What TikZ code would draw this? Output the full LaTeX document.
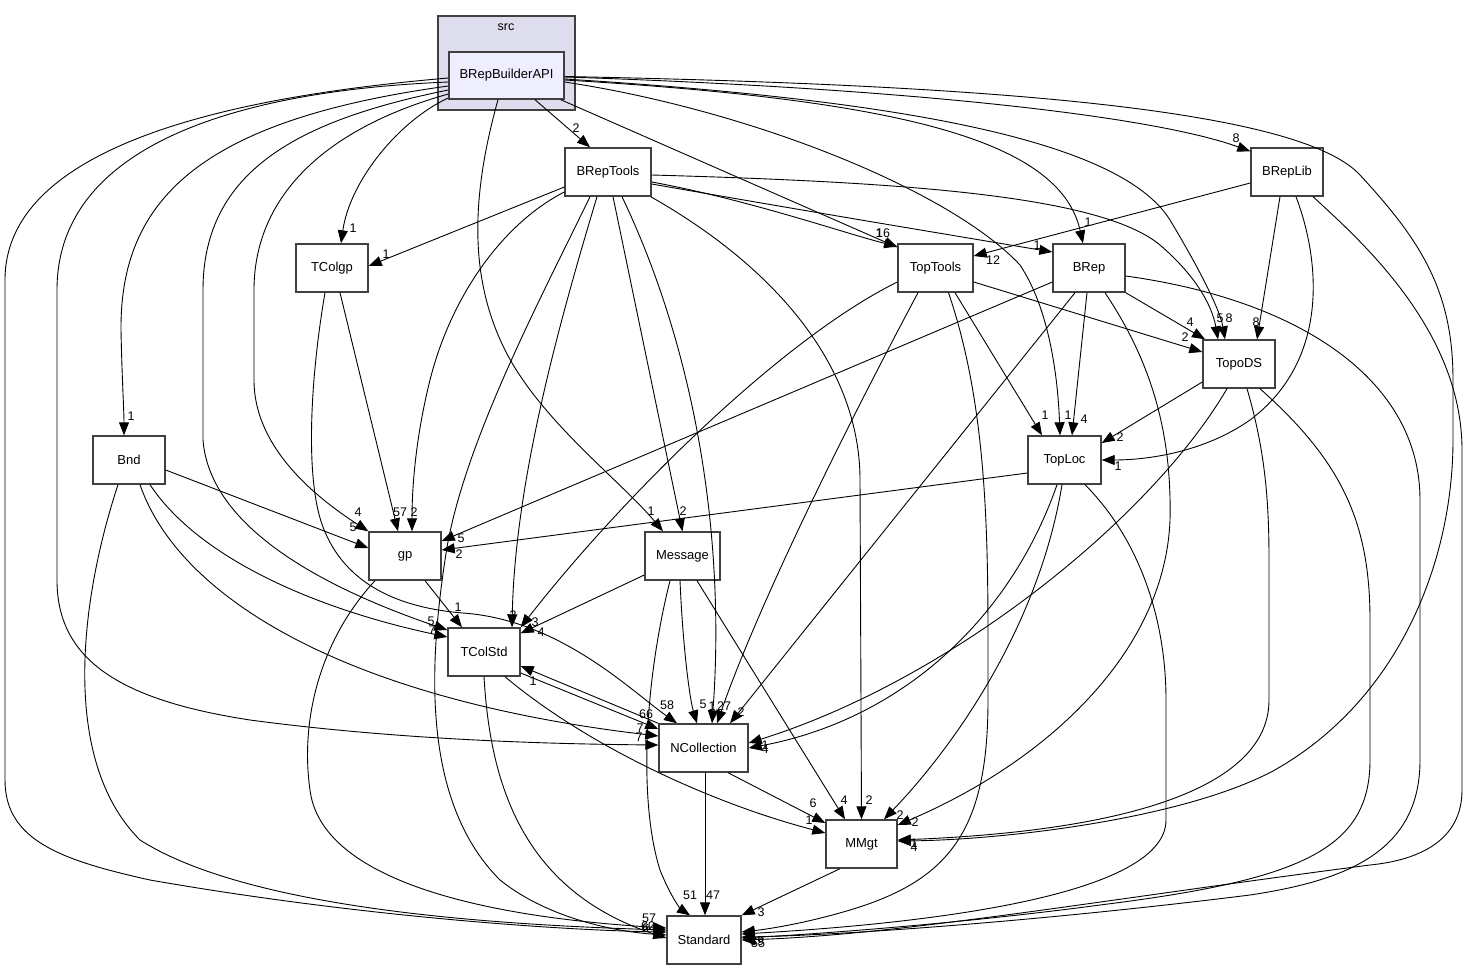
\documentclass[tikz,border=0pt]{standalone}
\usepackage{fontspec}
\setmainfont{Liberation Sans}
\usetikzlibrary{arrows.meta}
\definecolor{clusterfill}{HTML}{DDDDEE}
\definecolor{mainfill}{HTML}{EEEEFF}
\definecolor{boxline}{HTML}{404040}
\begin{document}
\begin{tikzpicture}[x=1pt,y=-1pt,
  box/.style={draw=boxline,line width=1.4pt,fill=white,minimum height=48pt,inner sep=0pt,font=\fontsize{13}{15}\selectfont},
  e/.style={-{Triangle[length=13pt,width=10pt]},line width=0.9pt,black},
  lbl/.style={inner sep=0pt,font=\fontsize{12.5}{13}\selectfont}]
\useasboundingbox (0,0) rectangle (1475,969);
% cluster
\node[draw=boxline,line width=1.4pt,fill=clusterfill,minimum width=137pt,minimum height=94pt,inner sep=0pt] (src) at (506.5,63) {};
\node[font=\fontsize{12.5}{13}\selectfont,inner sep=0pt] (srclbl) at (506,27) {src};
% nodes
\node[box,fill=mainfill,minimum width=115pt,minimum height=47pt] (b) at (506.5,75.5) {BRepBuilderAPI};
\node[box,minimum width=86pt] (bt) at (608,172) {BRepTools};
\node[box,minimum width=72pt] (bl) at (1287,172) {BRepLib};
\node[box,minimum width=72pt] (tg) at (332,268) {TColgp};
\node[box,minimum width=75pt] (tt) at (935.5,268) {TopTools};
\node[box,minimum width=72pt] (br) at (1089,268) {BRep};
\node[box,minimum width=72pt] (td) at (1239,364) {TopoDS};
\node[box,minimum width=72pt] (bn) at (129,460) {Bnd};
\node[box,minimum width=73pt] (tl) at (1064.5,460) {TopLoc};
\node[box,minimum width=72pt] (gp) at (405,556) {gp};
\node[box,minimum width=75pt] (ms) at (682.5,556) {Message};
\node[box,minimum width=72pt] (tc) at (484,652) {TColStd};
\node[box,minimum width=89pt] (nc) at (703.5,748) {NCollection};
\node[box,minimum width=71pt] (mm) at (861.5,844) {MMgt};
\node[box,minimum width=74pt] (st) at (704,940) {Standard};

% ---- edges from BRepBuilderAPI
\draw[e] ([xshift=28.5pt]b.south) -- ([xshift=-18pt]bt.north);
\draw[e] ([yshift=-22.5pt]b.west) .. controls (400,120) and (350,180) .. ([xshift=9pt]tg.north);
\draw[e] ([yshift=-18.5pt]b.west) .. controls (320,130) and (254,200) .. (254,290) -- (254,380) .. controls (254,450) and (320,500) .. (gp.north west);
\draw[e] ([yshift=-14.5pt]b.west) .. controls (300,120) and (203,170) .. (203,290) -- (203,440) .. controls (210,530) and (330,590) .. ([yshift=22pt]tc.west);
\draw[e] ([yshift=-10.5pt]b.west) .. controls (200,120) and (120,200) .. (121,330) .. controls (122,380) and (124,410) .. ([xshift=-5pt]bn.north);
\draw[e] ([yshift=-6.5pt]b.west) .. controls (250,90) and (57,140) .. (57,290) -- (57,580) .. controls (57,660) and (120,700) .. (250,720) .. controls (400,740) and (550,744) .. ([yshift=3pt]nc.west);
\draw[e] ([yshift=-2.5pt]b.west) .. controls (250,95) and (5,140) .. (5,280) -- (5,780) .. controls (5,840) and (60,860) .. (150,880) .. controls (350,915) and (550,930) .. ([yshift=8pt]st.west);
\draw[e] ([xshift=-8.5pt]b.south) .. controls (470,200) and (470,280) .. (505,350) .. controls (540,420) and (620,480) .. ([xshift=-19.5pt]ms.north);
\draw[e] ([xshift=-4pt]b.south east) -- ([yshift=-4pt]tt.north west);
\draw[e] ([yshift=-1.5pt]b.east) .. controls (900,88) and (1150,115) .. ([yshift=-4pt]bl.north west);
\draw[e] ([yshift=-1pt]b.east) .. controls (1000,85) and (1300,110) .. (1360,175) .. controls (1420,240) and (1453,290) .. (1453,380) -- (1453,440) .. controls (1453,560) and (1400,700) .. (1273,771) .. controls (1180,820) and (1000,840) .. ([yshift=3pt]mm.east);
\draw[e] ([yshift=-3.5pt]b.east) .. controls (900,100) and (1120,140) .. (1170,220) .. controls (1200,270) and (1220,310) .. ([xshift=-14pt]td.north);
\draw[e] ([yshift=-4.5pt]b.east) .. controls (900,100) and (1060,140) .. ([xshift=-6pt]br.north);
\draw[e] ([yshift=-6.5pt]b.east) .. controls (750,110) and (950,190) .. (1020,265) .. controls (1050,310) and (1058,380) .. ([xshift=-4.5pt]tl.north);

% ---- edges from BRepTools
\draw[e] ([yshift=-15pt]bt.west) -- ([yshift=2pt]tg.east);
\draw[e] ([yshift=-20pt]bt.west) .. controls (500,225) and (450,300) .. (430,380) .. controls (415,440) and (412,490) .. ([xshift=7pt]gp.north);
\draw[e] ([xshift=-18pt]bt.south) .. controls (540,300) and (460,450) .. (445,560) .. controls (430,660) and (420,800) .. (500,880) .. controls (550,920) and (620,932) .. ([yshift=5pt]st.west);
\draw[e] ([xshift=-11pt]bt.south) .. controls (560,320) and (515,480) .. ([xshift=28pt]tc.north);
\draw[e] ([xshift=5pt]bt.south) -- (ms.north);
\draw[e] ([xshift=14pt]bt.south) .. controls (700,360) and (725,550) .. ([xshift=8.5pt]nc.north);
\draw[e] ([xshift=-1pt]bt.south east) .. controls (780,270) and (860,370) .. (860,480) -- (mm.north);
\draw[e] ([yshift=-10pt]bt.east) .. controls (750,200) and (850,235) .. ([yshift=-3pt]tt.north west);
\draw[e] ([yshift=-12pt]bt.east) .. controls (800,210) and (950,235) .. ([yshift=16pt]br.west);
\draw[e] ([yshift=-3pt]bt.east) .. controls (900,182) and (1100,195) .. (1160,245) .. controls (1195,275) and (1212,305) .. ([xshift=-21pt]td.north);

% ---- edges from BRepLib
\draw[e] ([yshift=-11pt]bl.west) -- ([yshift=12pt]tt.east);
\draw[e] ([xshift=-7pt]bl.south) -- ([xshift=18pt]td.north);
\draw[e] ([xshift=9pt]bl.south) .. controls (1320,260) and (1330,360) .. (1250,420) .. controls (1200,455) and (1140,460) .. (tl.east);
\draw[e] ([xshift=26pt]bl.south) .. controls (1360,240) and (1462,330) .. (1462,450) -- (1462,790) .. controls (1462,840) and (1420,860) .. (1370,865) .. controls (1100,900) and (900,935) .. (st.east);

% ---- TColgp
\draw[e] ([xshift=8pt]tg.south) -- ([xshift=-7pt]gp.north);
\draw[e] ([xshift=-7pt]tg.south) .. controls (310,380) and (305,480) .. (323,527) .. controls (345,585) and (400,608) .. (463,613) .. controls (560,620) and (630,690) .. ([xshift=-26.5pt]nc.north);

% ---- gp
\draw[e] ([xshift=20pt]gp.south) -- ([xshift=-22pt]tc.north);
\draw[e] ([xshift=-30pt]gp.south) .. controls (320,640) and (300,720) .. (310,790) .. controls (320,870) and (450,915) .. ([yshift=12pt]st.west);

% ---- Message
\draw[e] ([yshift=-19pt]ms.west) -- ([yshift=-6pt]tc.north east);
\draw[e] ([xshift=-2.5pt]ms.south) .. controls (683,650) and (690,700) .. ([xshift=-6.5pt]nc.north);
\draw[e] ([xshift=14.5pt]ms.south) -- ([xshift=-16.5pt]mm.north);
\draw[e] ([xshift=-12.5pt]ms.south) .. controls (645,680) and (638,800) .. (660,870) .. controls (672,900) and (682,910) .. ([xshift=-14pt]st.north);

% ---- TColStd / NCollection / MMgt
\draw[e] ([yshift=-21pt]tc.east) -- ([yshift=19pt]nc.west);
\draw[e] (nc.north west) -- ([yshift=-14pt]tc.east);
\draw[e] ([xshift=21pt]tc.south) .. controls (580,740) and (700,800) .. ([yshift=11pt]mm.west);
\draw[e] (tc.south) .. controls (490,780) and (520,890) .. ([yshift=2pt]st.west);
\draw[e] ([xshift=24.5pt]nc.south) -- ([yshift=21pt]mm.west);
\draw[e] ([xshift=1.5pt]nc.south) -- ([xshift=1pt]st.north);
\draw[e] ([xshift=-21.5pt]mm.south) -- (st.north east);

% ---- TopTools
\draw[e] ([yshift=-14pt]tt.east) -- ([yshift=12pt]td.west);
\draw[e] ([xshift=19.5pt]tt.south) -- ([xshift=-22.5pt]tl.north);
\draw[e] ([yshift=-14pt]tt.west) .. controls (780,340) and (620,500) .. (tc.north east);
\draw[e] ([xshift=-17.5pt]tt.south) .. controls (850,420) and (760,600) .. ([xshift=13.5pt]nc.north);
\draw[e] ([xshift=13pt]tt.south) .. controls (985,400) and (988,520) .. (988,640) -- (988,700) .. controls (988,830) and (950,880) .. (850,910) .. controls (800,925) and (760,930) .. ([yshift=8pt]st.east);

% ---- BRep
\draw[e] (br.south east) -- ([xshift=-34pt]td.north);
\draw[e] ([xshift=-2pt]br.south) -- ([xshift=7.5pt]tl.north);
\draw[e] ([yshift=-14pt]br.west) -- ([yshift=15pt]gp.east);
\draw[e] ([xshift=-14pt]br.south) -- ([xshift=26.5pt]nc.north);
\draw[e] ([xshift=16pt]br.south) .. controls (1150,360) and (1172,430) .. (1170,520) .. controls (1165,650) and (1050,760) .. ([yshift=19pt]mm.east);
\draw[e] ([yshift=-8pt]br.east) .. controls (1300,300) and (1420,380) .. (1420,500) -- (1420,760) .. controls (1420,850) and (1350,880) .. (1250,895) .. controls (1050,920) and (850,935) .. ([yshift=3pt]st.east);

% ---- TopoDS
\draw[e] ([yshift=-18pt]td.west) -- ([yshift=17pt]tl.east);
\draw[e] ([xshift=-12pt]td.south) .. controls (1150,520) and (950,680) .. ([yshift=5pt]nc.east);
\draw[e] ([xshift=8pt]td.south) .. controls (1265,450) and (1269,500) .. (1269,560) -- (1269,700) .. controls (1269,780) and (1150,830) .. ([yshift=4pt]mm.east);
\draw[e] ([xshift=21pt]td.south) .. controls (1340,460) and (1370,520) .. (1370,620) -- (1370,760) .. controls (1370,850) and (1300,880) .. (1100,905) .. controls (950,925) and (800,935) .. ([yshift=2pt]st.east);

% ---- TopLoc
\draw[e] ([yshift=-13pt]tl.west) -- ([yshift=6pt]gp.east);
\draw[e] ([xshift=-7.5pt]tl.south) .. controls (1010,620) and (900,720) .. (nc.east);
\draw[e] ([xshift=-2.5pt]tl.south) .. controls (1040,620) and (960,740) .. ([xshift=22.5pt]mm.north);
\draw[e] ([xshift=20.5pt]tl.south) .. controls (1140,540) and (1166,620) .. (1166,700) -- (1166,820) .. controls (1166,900) and (900,925) .. ([yshift=6pt]st.east);

% ---- Bnd
\draw[e] ([yshift=-10pt]bn.east) -- ([yshift=8pt]gp.west);
\draw[e] ([xshift=21pt]bn.south) .. controls (200,560) and (320,610) .. ([yshift=15pt]tc.west);
\draw[e] ([xshift=11pt]bn.south) .. controls (180,600) and (350,700) .. ([yshift=12pt]nc.west);
\draw[e] ([xshift=-11pt]bn.south) .. controls (80,600) and (60,760) .. (140,840) .. controls (250,910) and (500,925) .. ([yshift=10pt]st.west);

% ---- labels
\node[lbl] (l1) at (576,128) {2};
\node[lbl] (l2) at (353,228) {1};
\node[lbl] (l3) at (131,416) {1};
\node[lbl] (l4) at (358,512) {4};
\node[lbl] (l5) at (353,527) {5};
\node[lbl] (l6) at (400,512) {57};
\node[lbl] (l7) at (414,512) {2};
\node[lbl] (l8) at (386,254) {1};
\node[lbl] (l9) at (461,538) {5};
\node[lbl] (l10) at (459,554) {2};
\node[lbl] (l11) at (651,511) {1};
\node[lbl] (l12) at (683,511) {2};
\node[lbl] (l13) at (458,607) {1};
\node[lbl] (l14) at (431,621) {5};
\node[lbl] (l15) at (432,630) {7};
\node[lbl] (l16) at (513,615) {3};
\node[lbl] (l17) at (535,622) {3};
\node[lbl] (l18) at (541,632) {4};
\node[lbl] (l19) at (533,681) {1};
\node[lbl] (l20) at (667,705) {58};
\node[lbl] (l21) at (646,714) {66};
\node[lbl] (l22) at (640,728) {7};
\node[lbl] (l23) at (639,737) {7};
\node[lbl] (l24) at (703,704) {5};
\node[lbl] (l25) at (712,706) {1};
\node[lbl] (l26) at (724,706) {27};
\node[lbl] (l27) at (741,712) {2};
\node[lbl] (l28) at (765,745) {1};
\node[lbl] (l29) at (765,749) {4};
\node[lbl] (l30) at (813,803) {6};
\node[lbl] (l31) at (809,820) {1};
\node[lbl] (l32) at (844,800) {4};
\node[lbl] (l33) at (869,800) {2};
\node[lbl] (l34) at (900,815) {2};
\node[lbl] (l35) at (915,822) {2};
\node[lbl] (l36) at (914,843) {1};
\node[lbl] (l37) at (914,847) {4};
\node[lbl] (l38) at (690,895) {51};
\node[lbl] (l39) at (713,895) {47};
\node[lbl] (l40) at (761,912) {3};
\node[lbl] (l41) at (649,918) {57};
\node[lbl] (l42) at (648,926) {60};
\node[lbl] (l43) at (649,928) {64};
\node[lbl] (l44) at (757,941) {39};
\node[lbl] (l45) at (758,943) {55};
\node[lbl] (l46) at (879,233) {1};
\node[lbl] (l47) at (883,233) {16};
\node[lbl] (l48) at (1037,245) {1};
\node[lbl] (l49) at (1088,222) {1};
\node[lbl] (l50) at (993,260) {12};
\node[lbl] (l51) at (1236,138) {8};
\node[lbl] (l52) at (1190,322) {4};
\node[lbl] (l53) at (1185,337) {2};
\node[lbl] (l54) at (1220,318) {5};
\node[lbl] (l55) at (1229,318) {8};
\node[lbl] (l56) at (1256,322) {8};
\node[lbl] (l57) at (1045,415) {1};
\node[lbl] (l58) at (1068,415) {1};
\node[lbl] (l59) at (1084,419) {4};
\node[lbl] (l60) at (1120,437) {2};
\node[lbl] (l61) at (1118,466) {1};
\end{tikzpicture}
\end{document}
